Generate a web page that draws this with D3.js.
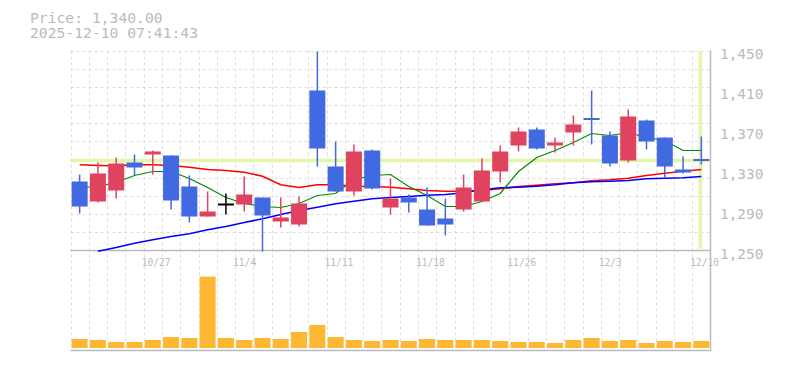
<!DOCTYPE html>
<html>
<head>
<meta charset="utf-8">
<script src="https://cdn.jsdelivr.net/npm/d3@7"></script>
<style>
  body { margin: 0; background: #fff; }
  svg { display: block; }
  text { font-family: "DejaVu Sans Mono", monospace; fill: #bbb; }
</style>
</head>
<body>
<div id="chart"></div>
<script>
// trading days, 10/21 .. 12/10
const dates = ["10/21","10/22","10/23","10/24","10/27","10/28","10/29","10/30","10/31",
  "11/4","11/5","11/6","11/7","11/10","11/11","11/12","11/13","11/14","11/17","11/18",
  "11/19","11/20","11/21","11/25","11/26","11/27","11/28","12/1","12/2","12/3","12/4",
  "12/5","12/8","12/9","12/10"];

const open  = [1319,1299,1310,1338,1346,1345,1314,1284,1296,1296,1303,1279,1276,1410,1334,1309,1350,1293,
  1303,1291,1282,1291,1299,1329,1355,1371,1355,1368,1382,1365,1340,1380,1363,1331,1341];
const close = [1294,1327,1337,1333,1349,1300,1284,1289,1296,1306,1285,1283,1297,1352,1309,1349,1312,1302,
  1298,1275,1276,1313,1330,1349,1369,1352,1358,1376,1381,1337,1384,1359,1334,1328,1340];
const high  = [1326,1338,1343,1346,1350,1345,1325,1309,1307,1324,1303,1303,1304,1449,1359,1356,1351,1322,
  1306,1313,1302,1326,1342,1355,1373,1373,1363,1385,1410,1369,1391,1381,1363,1344,1364];
const low   = [1287,1298,1302,1325,1326,1291,1278,1284,1286,1289,1249,1273,1274,1334,1309,1305,1311,1286,
  1288,1275,1265,1289,1299,1318,1349,1351,1348,1355,1356,1334,1338,1351,1323,1327,1336];

// volume (thousand shares)
const volume = [45,40,30,30,40,55,50,357,50,40,50,45,80,115,55,40,35,40,35,45,40,40,40,35,30,30,25,
  40,50,35,40,25,35,30,35];

// moving averages
const maShort = [1313,1314,1318,1325,1329,1329,1322,1313,1303,1297,1294,1293,1297,1305,1307,1321,1325,
  1326,1314,1305,1294,1294,1299,1307,1329,1343,1350,1358,1367,1365,1368,1363,1360,1350,1350];
const maMid = [1335.7,1335,1334.7,1335.7,1335.7,1335,1333.3,1331,1330,1328.3,1324.3,1315.7,1313,1315.7,
  1315.7,1314.3,1314,1313.3,1311.7,1310,1309.3,1309.3,1310,1311.7,1314,1315.3,1316.7,1317.7,1319.7,
  1320.7,1322.3,1325,1327.3,1329.3,1331];
const maLong = [null,1249.3,1253,1257.3,1260.7,1264,1266.7,1270.7,1274,1278,1281.7,1286,1290,1293.3,
  1296.7,1299.3,1301.7,1303,1304,1305.3,1306,1307.7,1310.7,1312.7,1313.3,1314.3,1315.7,1317.7,1318.7,
  1319.3,1320,1321.7,1322.3,1322.7,1324];

const xLabels = ["10/27","11/4","11/11","11/18","11/26","12/3","12/10"];
const yTicks = [1250,1290,1330,1370,1410,1450];
const lastPrice = 1340;

const width = 785, height = 370;
const left = 70.5, right = 710.5;

const svg = d3.select("#chart").append("svg")
    .attr("width", width)
    .attr("height", height);

const x = d3.scaleBand().domain(dates).range([left, right]).padding(0);
const y = d3.scaleLinear().domain([1250, 1450]).range([250.5, 50.5]);
const yv = d3.scaleLinear().domain([0, 500]).range([348, 248]);
const cx = (i) => x(dates[i]) + x.bandwidth() / 2;
const bw = 16;

// grid
const grid = svg.append("g")
    .attr("stroke", "#ddd")
    .attr("stroke-dasharray", "3,3");

grid.selectAll(".vg")
  .data(dates.map((d) => x(d)))
  .enter().append("line")
    .attr("x1", (d) => Math.round(d) + 0.5)
    .attr("x2", (d) => Math.round(d) + 0.5)
    .attr("y1", 50.5)
    .attr("y2", 350);

grid.selectAll(".hg")
  .data(d3.range(11).map((i) => 1250 + i * 200 / 11 + 200 / 11))
  .enter().append("line")
    .attr("x1", left)
    .attr("x2", right)
    .attr("y1", (d) => Math.round(y(d)) + 0.5)
    .attr("y2", (d) => Math.round(y(d)) + 0.5);

// last price markers
svg.append("line")
    .attr("x1", left).attr("x2", right)
    .attr("y1", y(lastPrice)).attr("y2", y(lastPrice))
    .attr("stroke", "#e3f5a8")
    .attr("stroke-width", 3.5);

svg.append("line")
    .attr("x1", cx(dates.length - 1) - 1).attr("x2", cx(dates.length - 1) - 1)
    .attr("y1", 51).attr("y2", 248.5)
    .attr("stroke", "#e3f5a8")
    .attr("stroke-width", 3.5);

// frame
svg.append("path")
    .attr("d", `M${right},50.5V350.5H${left}M${left},${y(1250)}H${right}`)
    .attr("fill", "none")
    .attr("stroke", "#bbb")
    .attr("stroke-width", 1.5);

// moving averages
const maLine = d3.line()
    .defined((d) => d != null)
    .x((d, i) => cx(i))
    .y((d) => y(d));

[[maMid, "#f00", 1.6], [maLong, "#00f", 1.6], [maShort, "#080", 1.2]].forEach(([data, color, w]) => {
  svg.append("path")
      .attr("d", maLine(data))
      .attr("fill", "none")
      .attr("stroke", color)
      .attr("stroke-width", w);
});

// candles
const colour = (i) => close[i] > open[i] ? "#e0435f" : close[i] < open[i] ? "#4169e1" : "#000";

const candle = svg.append("g").selectAll("g")
    .data(dates)
  .enter().append("g");

candle.append("line")
    .attr("x1", (d, i) => cx(i))
    .attr("x2", (d, i) => cx(i))
    .attr("y1", (d, i) => y(high[i]))
    .attr("y2", (d, i) => y(low[i]))
    .attr("stroke", (d, i) => colour(i))
    .attr("stroke-width", 1.5);

candle.append("rect")
    .attr("x", (d, i) => cx(i) - bw / 2)
    .attr("width", bw)
    .attr("y", (d, i) => {
      const top = y(Math.max(open[i], close[i]));
      const h = Math.abs(y(open[i]) - y(close[i]));
      return h < 2 ? top - 1 + h / 2 : top;
    })
    .attr("height", (d, i) => Math.max(2, Math.abs(y(open[i]) - y(close[i]))))
    .attr("fill", (d, i) => colour(i));

// volume
svg.append("g").selectAll("rect")
    .data(volume)
  .enter().append("rect")
    .attr("x", (d, i) => cx(i) - bw / 2)
    .attr("width", bw)
    .attr("y", (d) => yv(d))
    .attr("height", (d) => yv(0) - yv(d))
    .attr("fill", "#fdb733");

// axis labels
svg.append("g").selectAll("text")
    .data(yTicks)
  .enter().append("text")
    .attr("x", 720)
    .attr("y", (d) => y(d) + 8)
    .style("font-size", "14.4px")
    .text((d) => d3.format(",")(d));

svg.append("g").selectAll("text")
    .data(xLabels)
  .enter().append("text")
    .attr("x", (d) => x(d) - 2)
    .attr("y", 266)
    .style("font-size", "9.6px")
    .text((d) => d);

// header
svg.append("text")
    .attr("x", 30).attr("y", 22.7)
    .style("font-size", "14.7px")
    .text("Price: " + d3.format(",.2f")(lastPrice));

svg.append("text")
    .attr("x", 30).attr("y", 38.3)
    .style("font-size", "14.7px")
    .text("2025-12-10 07:41:43");
</script>
</body>
</html>
